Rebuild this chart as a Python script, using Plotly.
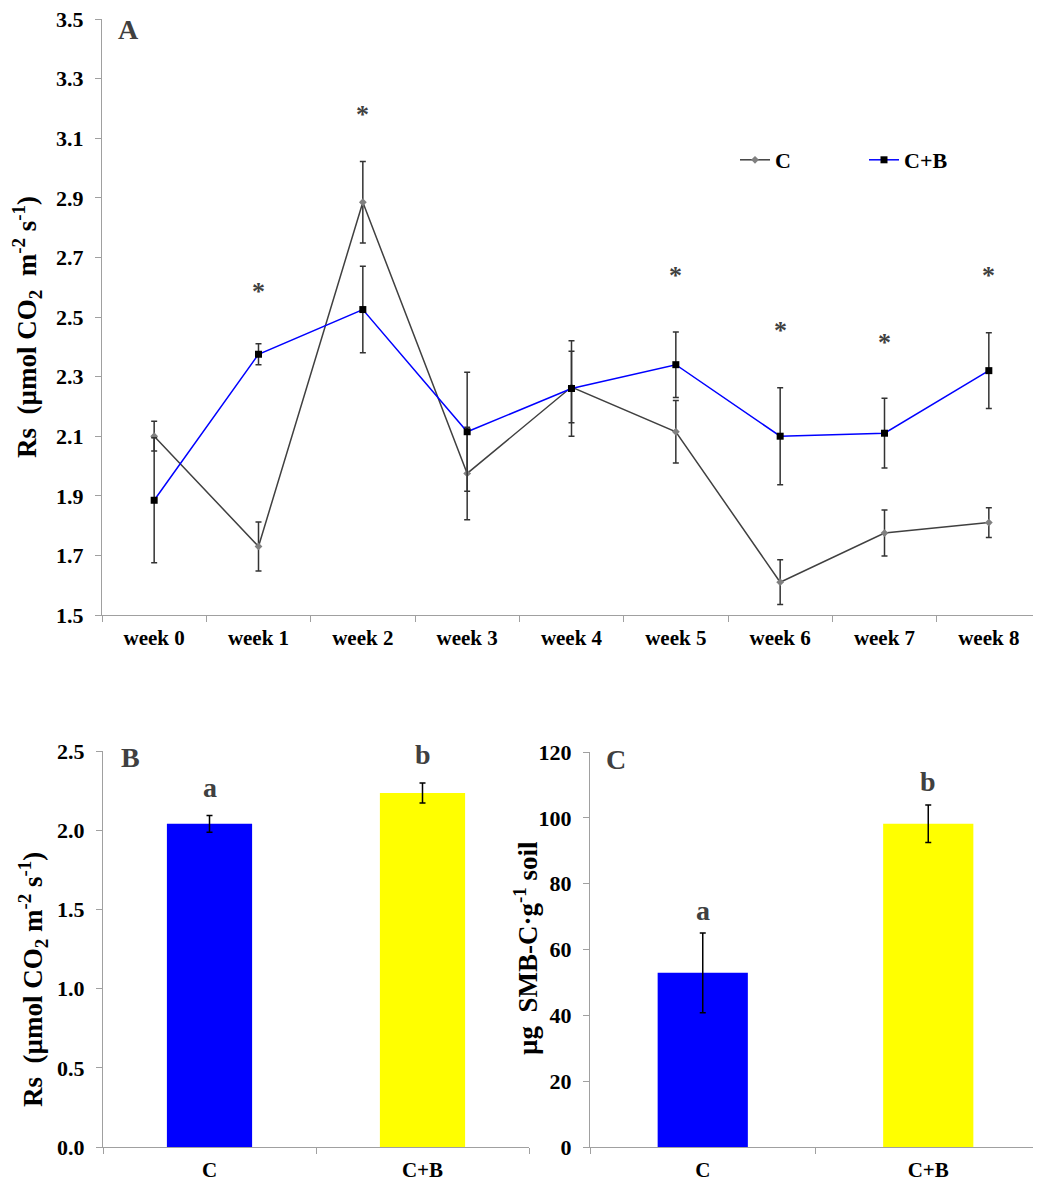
import plotly.graph_objects as go

# The page places the figure 8 px from the top-left corner, so the figure is
# sized to fill the rest of the 1041x1184 window and pixel targets are offset.
OFF = 8
W, H = 1041 - OFF, 1184 - OFF

weeks = ["week 0", "week 1", "week 2", "week 3", "week 4", "week 5", "week 6", "week 7", "week 8"]
c_rs = [2.10, 1.73, 2.885, 1.975, 2.265, 2.115, 1.61, 1.775, 1.81]
c_err = [0.05, 0.082, 0.137, 0.155, 0.12, 0.105, 0.075, 0.077, 0.05]
cb_rs = [1.885, 2.375, 2.525, 2.115, 2.26, 2.34, 2.10, 2.11, 2.32]
cb_err = [0.21, 0.035, 0.145, 0.20, 0.16, 0.11, 0.163, 0.117, 0.127]
star_weeks = ["week 1", "week 2", "week 5", "week 6", "week 7", "week 8"]
star_y = [2.584, 3.18, 2.64, 2.456, 2.416, 2.64]

treatments = ["C", "C+B"]
rs_mean = [2.04, 2.235]
rs_err = [0.053, 0.063]
rs_letters = ["a", "b"]
rs_letter_y = [2.27, 2.475]

smb_mean = [52.9, 98.2]
smb_err = [12.1, 5.7]
smb_letters = ["a", "b"]
smb_letter_y = [72, 111]

bar_colors = ["#0000FF", "#FFFF00"]

FONT = "Liberation Serif"
AXC = "#A0A0A0"
DARK = "#404040"


def px_x(p):
    return (p - OFF) / W


def px_y(p):
    return (H - (p - OFF)) / H


fig = go.Figure()

# Panel A
fig.add_trace(go.Scatter(
    x=weeks, y=c_rs, name="C", mode="lines+markers",
    line=dict(color=DARK, width=1.5),
    marker=dict(symbol="diamond", color="#808080", size=6),
    error_y=dict(type="data", array=c_err, color="#333333", thickness=1.5, width=3),
    xaxis="x", yaxis="y",
))
fig.add_trace(go.Scatter(
    x=weeks, y=cb_rs, name="C+B", mode="lines+markers",
    line=dict(color="#0000FF", width=1.5),
    marker=dict(symbol="square", color="#000000", size=7),
    error_y=dict(type="data", array=cb_err, color="#333333", thickness=1.5, width=3),
    xaxis="x", yaxis="y",
))

# Panel B
fig.add_trace(go.Bar(
    x=treatments, y=rs_mean, marker=dict(color=bar_colors, line=dict(width=0)),
    width=0.4, showlegend=False,
    error_y=dict(type="data", array=rs_err, color="#000000", thickness=1.5, width=3),
    xaxis="x2", yaxis="y2",
))

# Panel C
fig.add_trace(go.Bar(
    x=treatments, y=smb_mean, marker=dict(color=bar_colors, line=dict(width=0)),
    width=0.4, showlegend=False,
    error_y=dict(type="data", array=smb_err, color="#000000", thickness=1.5, width=3),
    xaxis="x3", yaxis="y3",
))

tickfont = dict(family=FONT, size=22, color="#000000", weight="bold")
xtickfont = dict(family=FONT, size=21, color="#000000", weight="bold")

common_axis = dict(showline=True, linecolor=AXC, linewidth=1.2, ticks="outside",
                   tickcolor=AXC, ticklen=6, tickwidth=1.2, showgrid=False, zeroline=False,
                   automargin=False, ticklabeloverflow="allow")

C = dict(xanchor="center", yanchor="middle", showarrow=False)

annotations = []
for wk, yy in zip(star_weeks, star_y):
    annotations.append(dict(x=wk, y=yy, xref="x", yref="y", text="*", **C,
                            font=dict(family=FONT, size=26, color=DARK, weight="bold")))
for t, yy, lt in zip(treatments, rs_letter_y, rs_letters):
    annotations.append(dict(x=t, y=yy, xref="x2", yref="y2", text=lt, **C,
                            font=dict(family=FONT, size=28, color=DARK, weight="bold")))
for t, yy, lt in zip(treatments, smb_letter_y, smb_letters):
    annotations.append(dict(x=t, y=yy, xref="x3", yref="y3", text=lt, **C,
                            font=dict(family=FONT, size=28, color=DARK, weight="bold")))

panel_font = dict(family=FONT, size=28, color=DARK, weight="bold")
annotations += [
    dict(x=px_x(128), y=px_y(30), xref="paper", yref="paper", text="A", font=panel_font, **C),
    dict(x=px_x(130), y=px_y(757), xref="paper", yref="paper", text="B", font=panel_font, **C),
    dict(x=px_x(616), y=px_y(759), xref="paper", yref="paper", text="C", font=panel_font, **C),
]

title_font = dict(family=FONT, size=27, color="#000000", weight="bold")
annotations += [
    dict(x=px_x(27), y=px_y(327), xref="paper", yref="paper", textangle=-90, **C,
         text="Rs  (µmol CO<sub>2</sub>  m<sup>-2</sup> s<sup>-1</sup>)", font=title_font),
    dict(x=px_x(33), y=px_y(980), xref="paper", yref="paper", textangle=-90, **C,
         text="Rs  (µmol CO<sub>2</sub> m<sup>-2</sup> s<sup>-1</sup>)", font=title_font),
    dict(x=px_x(526), y=px_y(948), xref="paper", yref="paper", textangle=-90, **C,
         text="µg  SMB-C·g<sup>-1</sup> soil", font=title_font),
]

fig.update_layout(
    width=W, height=H,
    margin=dict(l=0, r=0, t=0, b=0, autoexpand=False),
    paper_bgcolor="white", plot_bgcolor="white",
    font=dict(family=FONT, color="#000000"),
    showlegend=True,
    legend=dict(orientation="h", x=px_x(735), y=px_y(160), xanchor="left", yanchor="middle",
                font=dict(family=FONT, size=22, color="#000000", weight="bold"),
                itemwidth=30, entrywidth=84, entrywidthmode="pixels",
                bgcolor="rgba(0,0,0,0)"),
    xaxis=dict(domain=[px_x(102), 1.0], anchor="y", type="category", range=[-0.5, 8.5],
               tickson="boundaries", tickfont=xtickfont, ticklabelstandoff=4, **common_axis),
    yaxis=dict(domain=[px_y(615), px_y(19)], anchor="x", range=[1.5, 3.5], dtick=0.2,
               tick0=1.5, tickformat=".1f", tickfont=tickfont, ticklabelstandoff=7, **common_axis),
    xaxis2=dict(domain=[px_x(103), px_x(529)], anchor="y2", type="category", range=[-0.5, 1.5],
                tickson="boundaries", tickfont=xtickfont, ticklabelstandoff=4, **common_axis),
    yaxis2=dict(domain=[px_y(1147), px_y(751)], anchor="x2", range=[0, 2.5], dtick=0.5,
                tickformat=".1f", tickfont=tickfont, ticklabelstandoff=7, **common_axis),
    xaxis3=dict(domain=[px_x(590), 1.0], anchor="y3", type="category", range=[-0.5, 1.5],
                tickson="boundaries", tickfont=xtickfont, ticklabelstandoff=4, **common_axis),
    yaxis3=dict(domain=[px_y(1147), px_y(752)], anchor="x3", range=[0, 120], dtick=20,
                tickfont=tickfont, ticklabelstandoff=7, **common_axis),
    annotations=annotations,
)

fig.write_html("out.html")
